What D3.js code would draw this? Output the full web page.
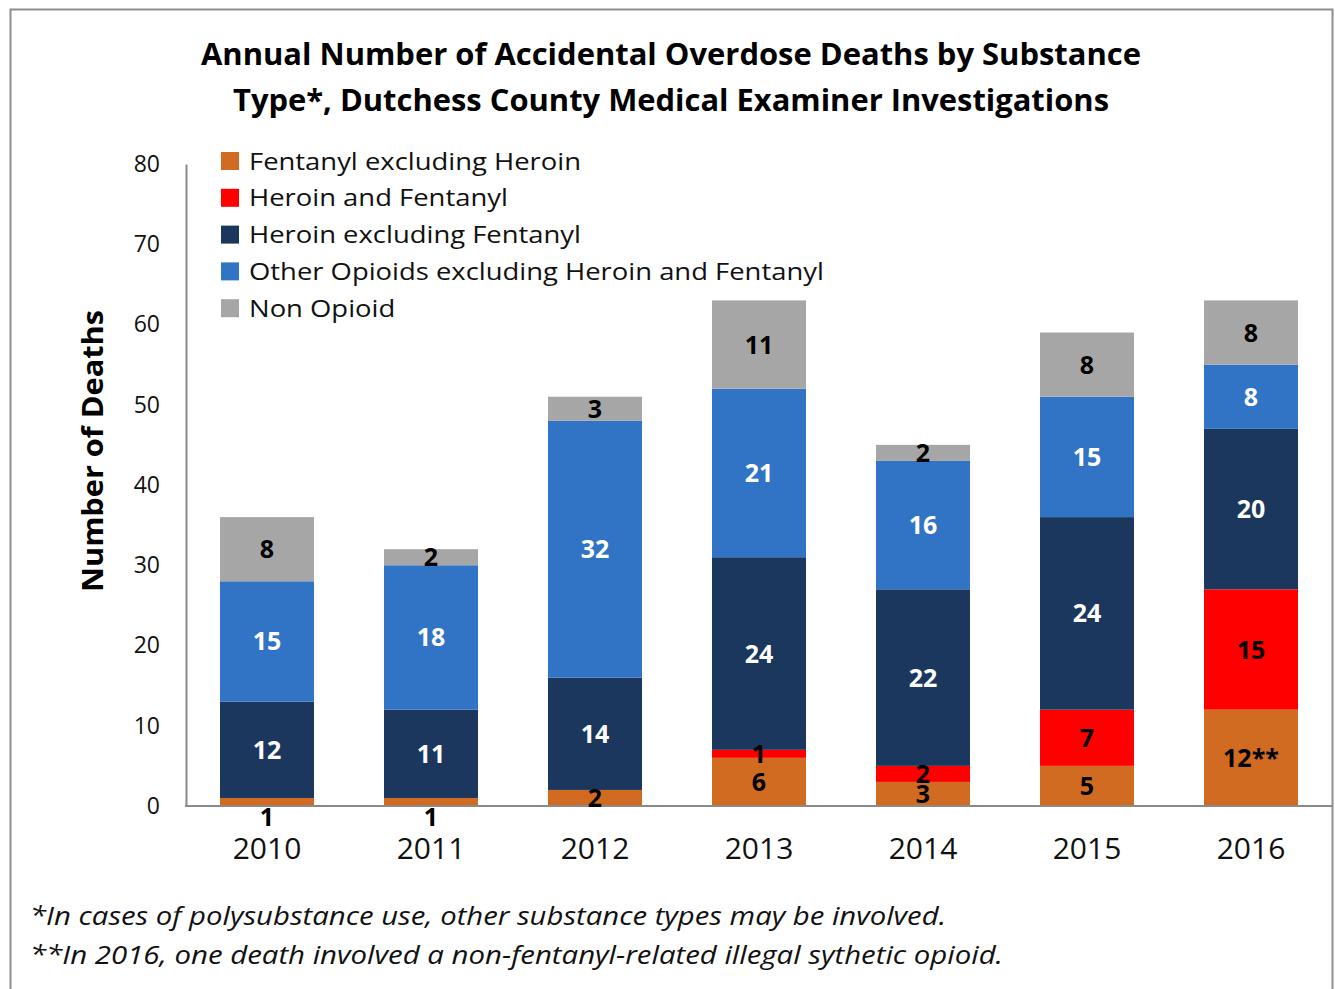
<!DOCTYPE html>
<html>
<head>
<meta charset="utf-8">
<script src="https://cdn.jsdelivr.net/npm/d3@7"></script>
<style>
  html, body { margin: 0; padding: 0; background: #fff; }
  svg { display: block; font-family: "Open Sans", Lato, sans-serif; }
</style>
</head>
<body>
<svg id="chart" width="1335" height="989"></svg>
<script>
// Annual accidental overdose deaths, Dutchess County ME investigations
const years = ["2010", "2011", "2012", "2013", "2014", "2015", "2016"];
const seriesNames = [
  "Fentanyl excluding Heroin",
  "Heroin and Fentanyl",
  "Heroin excluding Fentanyl",
  "Other Opioids excluding Heroin and Fentanyl",
  "Non Opioid"
];
const fentanylExclHeroin = [1, 1, 2, 6, 3, 5, 12];
const heroinAndFentanyl  = [0, 0, 0, 1, 2, 7, 15];
const heroinExclFentanyl = [12, 11, 14, 24, 22, 24, 20];
const otherOpioids       = [15, 18, 32, 21, 16, 15, 8];
const nonOpioid          = [8, 2, 3, 11, 2, 8, 8];
const labelSuffix = { "Fentanyl excluding Heroin|2016": "**" };
const yTicks = [0, 10, 20, 30, 40, 50, 60, 70, 80];
const colors = ["#D06B21", "#FF0000", "#1B375E", "#3174C5", "#A6A6A6"];
const labelColors = ["#000", "#000", "#fff", "#fff", "#000"];
const titleLines = [
  "Annual Number of Accidental Overdose Deaths by Substance",
  "Type*, Dutchess County Medical Examiner Investigations"
];
const footnotes = [
  "*In cases of polysubstance use, other substance types may be involved.",
  "**In 2016, one death involved a non-fentanyl-related illegal sythetic opioid."
];

const seriesValues = [fentanylExclHeroin, heroinAndFentanyl, heroinExclFentanyl, otherOpioids, nonOpioid];
const table = years.map((yr, i) => {
  const row = { year: yr };
  seriesNames.forEach((s, k) => { row[s] = seriesValues[k][i]; });
  return row;
});

const svg = d3.select("#chart");

// outer frame
svg.append("rect")
  .attr("x", 10.5).attr("y", 9.5)
  .attr("width", 1322).attr("height", 1000)
  .attr("fill", "none").attr("stroke", "#8e8e8e").attr("stroke-width", 2);

const plot = { left: 186, right: 1333, top: 164, bottom: 806 };

const x = d3.scaleBand()
  .domain(years)
  .range([plot.left - 1, plot.right])
  .paddingInner(70 / 164)
  .paddingOuter(35 / 164);

const y = d3.scaleLinear().domain([0, 80]).range([plot.bottom, plot.top]);

const stacked = d3.stack().keys(seriesNames)(table);

// bars
const layers = svg.append("g").selectAll("g")
  .data(stacked).join("g")
  .attr("fill", (d, i) => colors[i]);

layers.selectAll("rect")
  .data(d => d.filter(p => p[1] - p[0] > 0))
  .join("rect")
  .attr("x", p => x(p.data.year))
  .attr("width", x.bandwidth())
  .attr("y", p => y(p[1]))
  .attr("height", p => y(p[0]) - y(p[1]));

// axes
const yAxis = d3.axisLeft(y).tickValues(yTicks).tickSize(0).tickPadding(26);
const gy = svg.append("g").attr("transform", `translate(${plot.left},0)`).call(yAxis);
gy.select(".domain").attr("stroke", "#8a8a8a").attr("stroke-width", 2);
gy.selectAll("text").attr("font-size", 23).attr("fill", "#111").attr("font-family", "'Open Sans', sans-serif");

const xAxis = d3.axisBottom(x).tickSize(0).tickPadding(32);
const gx = svg.append("g").attr("transform", `translate(0,${plot.bottom})`).call(xAxis);
gx.select(".domain").attr("stroke", "#8a8a8a").attr("stroke-width", 2)
  .attr("d", `M${plot.left - 1},0H${plot.right}`);
gx.selectAll("text").attr("font-size", 30).attr("fill", "#111").attr("font-family", "'Open Sans', sans-serif");

// data labels
const labels = svg.append("g").attr("font-weight", "bold").attr("font-size", 25).attr("text-anchor", "middle");
stacked.forEach((layer, k) => {
  layer.forEach(p => {
    const v = p[1] - p[0];
    if (v <= 0) return;
    const h = y(p[0]) - y(p[1]);
    let cy = (y(p[0]) + y(p[1])) / 2;
    if (p[0] === 0 && h < 10) cy = y(0) + 11; // thin bottom segment: hang the label under the axis
    labels.append("text")
      .attr("x", x(p.data.year) + x.bandwidth() / 2)
      .attr("y", cy)
      .attr("dy", "0.36em")
      .attr("fill", labelColors[k])
      .text(v + (labelSuffix[layer.key + "|" + p.data.year] || ""));
  });
});

// legend
const legend = svg.append("g").attr("transform", "translate(221,152)");
const legendTexts = [];
seriesNames.forEach((s, i) => {
  const g = legend.append("g").attr("transform", `translate(0,${i * 36.8})`);
  g.append("rect").attr("width", 18).attr("height", 18).attr("fill", colors[i]);
  legendTexts.push(g.append("text").attr("x", 28).attr("y", 17.5).attr("font-size", 24.5).attr("fill", "#111").text(s));
});
// widen the legend lettering a little so it reads like the wider UI face
const firstWidth = legendTexts[0].node().getComputedTextLength();
const stretch = 332 / firstWidth;
legendTexts.forEach(t => {
  t.attr("textLength", t.node().getComputedTextLength() * stretch).attr("lengthAdjust", "spacingAndGlyphs");
});

// y-axis title
svg.append("text")
  .attr("transform", "translate(103,451) rotate(-90)")
  .attr("text-anchor", "middle")
  .attr("font-weight", "bold").attr("font-size", 29).attr("fill", "#000")
  .attr("textLength", 282).attr("lengthAdjust", "spacingAndGlyphs")
  .text("Number of Deaths");

// chart title
const title = svg.append("g").attr("font-weight", "bold").attr("font-size", 30).attr("text-anchor", "middle");
title.append("text").attr("x", 671).attr("y", 65)
  .attr("textLength", 940).attr("lengthAdjust", "spacingAndGlyphs").text(titleLines[0]);
title.append("text").attr("x", 671).attr("y", 111)
  .attr("textLength", 876).attr("lengthAdjust", "spacingAndGlyphs").text(titleLines[1]);

// footnotes
const notes = svg.append("g").attr("font-style", "italic").attr("font-size", 25).attr("fill", "#111");
notes.append("text").attr("x", 30).attr("y", 925)
  .attr("textLength", 916).attr("lengthAdjust", "spacingAndGlyphs").text(footnotes[0]);
notes.append("text").attr("x", 30).attr("y", 964)
  .attr("textLength", 973).attr("lengthAdjust", "spacingAndGlyphs").text(footnotes[1]);
</script>
</body>
</html>
